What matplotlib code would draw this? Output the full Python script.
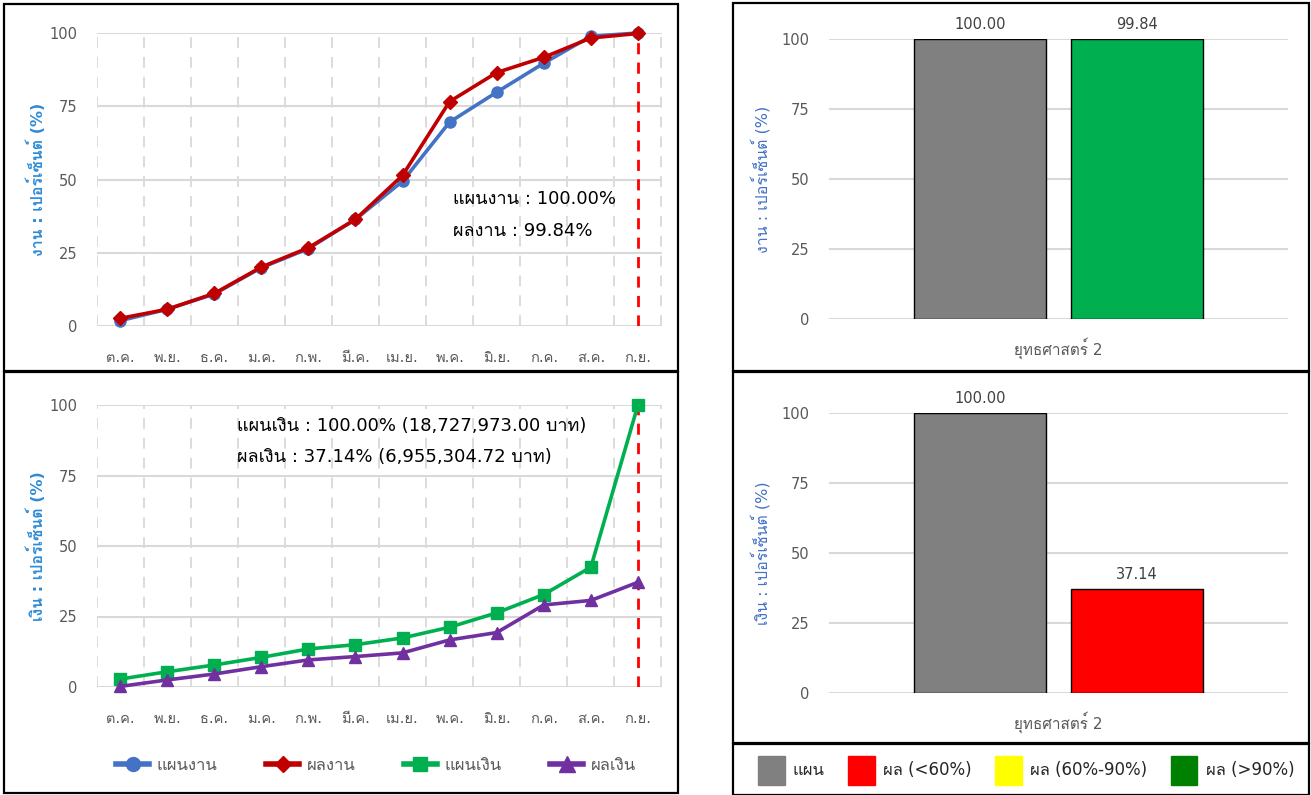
import numpy as np
import matplotlib
matplotlib.use("Agg")
import matplotlib.pyplot as plt
from matplotlib import font_manager
from matplotlib.ft2font import FT2Font
from matplotlib.lines import Line2D
from matplotlib.patches import Patch, Rectangle

# data
months = ["ต.ค.", "พ.ย.", "ธ.ค.", "ม.ค.", "ก.พ.", "มี.ค.", "เม.ย.", "พ.ค.", "มิ.ย.", "ก.ค.", "ส.ค.", "ก.ย."]
plan_work = [1.8, 5.7, 10.9, 19.9, 26.4, 36.4, 49.4, 69.6, 79.8, 89.7, 98.9, 100.0]
result_work = [2.6, 5.7, 11.1, 20.1, 26.7, 36.4, 51.4, 76.6, 86.5, 91.7, 98.3, 99.84]
plan_money = [2.8, 5.4, 7.8, 10.5, 13.5, 15.0, 17.4, 21.2, 26.3, 32.8, 42.5, 100.0]
result_money = [0.2, 2.5, 4.6, 7.2, 9.6, 10.8, 12.1, 16.7, 19.3, 29.1, 30.7, 37.14]

bar_category = "ยุทธศาสตร์ 2"
work_bars = [100.00, 99.84]
money_bars = [100.00, 37.14]
work_text = ["แผนงาน : 100.00%", "ผลงาน : 99.84%"]
money_text = ["แผนเงิน : 100.00% (18,727,973.00 บาท)", "ผลเงิน : 37.14% (6,955,304.72 บาท)"]
line_names = ["แผนงาน", "ผลงาน", "แผนเงิน", "ผลเงิน"]
bar_legend = ["แผน", "ผล (<60%)", "ผล (60%-90%)", "ผล (>90%)"]


def find_thai():
    # look for any installed font that has Thai glyphs
    best = None
    for f in font_manager.fontManager.ttflist:
        try:
            cmap = FT2Font(f.fname).get_charmap()
        except Exception:
            continue
        if 0x0E01 in cmap and 0x0E41 in cmap:
            if f.weight in (400, "normal", "regular") and f.style == "normal":
                return f.name
            best = best or f.name
    return best


thai = find_thai()
fams = ["DejaVu Sans"] + ([thai] if thai else [])
plt.rcParams["font.family"] = fams

W, H = 1311, 795
fig = plt.figure(figsize=(W / 100, H / 100), dpi=100)


def rect(x0, y0, x1, y1):
    return [x0 / W, 1 - y1 / H, (x1 - x0) / W, (y1 - y0) / H]


GRID = "#D9D9D9"
TICK = "#595959"

# panel borders
for (x0, y0, x1, y1) in [(4, 4, 678, 371), (4, 372, 678, 793),
                         (733, 3, 1309, 371), (733, 372, 1309, 743), (733, 744, 1309, 795)]:
    fig.add_artist(Rectangle((x0 / W, 1 - y1 / H), (x1 - x0) / W, (y1 - y0) / H,
                             transform=fig.transFigure, fill=False, ec="black", lw=1.6))


def line_panel(ax, s1, s2, c1, c2, m1, m2, ms1, ms2, ylabel, notes, note_xy):
    x = np.arange(len(months))
    ax.set_xlim(-0.5, 11.5)
    ax.set_ylim(0, 100)
    for v in [0, 25, 50, 75, 100]:
        ax.axhline(v, color=GRID, lw=1.5, zorder=0)
    for b in np.arange(-0.5, 12, 1):
        ax.axvline(b, color=GRID, lw=1.3, ls=(0, (6, 5)), zorder=0)
    ax.plot([11, 11], [0, 100], color="#FF0000", lw=2, ls=(0, (4, 3)), zorder=1)
    ax.plot(x, s1, color=c1, lw=2.6, marker=m1, ms=ms1, zorder=3, clip_on=False)
    ax.plot(x, s2, color=c2, lw=2.6, marker=m2, ms=ms2, zorder=4, clip_on=False)
    for s in ax.spines.values():
        s.set_visible(False)
    ax.set_xticks(x)
    ax.set_xticklabels(months)
    ax.set_yticks([0, 25, 50, 75, 100])
    ax.tick_params(axis="x", length=0, pad=17, labelsize=10.5, labelcolor=TICK)
    ax.tick_params(axis="y", length=0, pad=14, labelsize=10.5, labelcolor=TICK)
    ax.set_ylabel(ylabel, color="#2E8BD6", fontsize=11.5, fontweight="bold", labelpad=2)
    tx, ty = note_xy
    for i, t in enumerate(notes):
        ax.text(tx, ty - i * 11.2, t, fontsize=13, color="black", va="center", zorder=5)


ax1 = fig.add_axes(rect(96.5, 33, 661.5, 326))
line_panel(ax1, plan_work, result_work, "#4472C4", "#C00000", "o", "D", 8, 7,
           "งาน : เปอร์เซ็นต์ (%)", work_text, (7.08, 43.5))

ax2 = fig.add_axes(rect(96.5, 405, 661.5, 687))
line_panel(ax2, plan_money, result_money, "#00B050", "#7030A0", "s", "^", 8, 9,
           "เงิน : เปอร์เซ็นต์ (%)", money_text, (2.48, 92.7))

handles = [
    Line2D([], [], color="#4472C4", lw=4, marker="o", ms=10),
    Line2D([], [], color="#C00000", lw=4, marker="D", ms=8),
    Line2D([], [], color="#00B050", lw=4, marker="s", ms=10),
    Line2D([], [], color="#7030A0", lw=4, marker="^", ms=11),
]
fig.legend(handles, line_names, loc="center", bbox_to_anchor=(376 / W, 1 - 765 / H),
           ncol=4, frameon=False, fontsize=12, labelcolor=TICK, columnspacing=2.9,
           handlelength=2.0, handletextpad=0.45)


def bar_panel(ax, vals, colors, ylabel):
    ax.set_xlim(-0.962, 1.962)
    ax.set_ylim(0, 100)
    for v in [0, 25, 50, 75, 100]:
        ax.axhline(v, color=GRID, lw=1.5, zorder=0)
    bars = ax.bar([0, 1], vals, width=0.84, color=colors, edgecolor="black", lw=1, zorder=2)
    for b, v in zip(bars, vals):
        ax.text(b.get_x() + b.get_width() / 2, v + 2.5, f"{v:.2f}", ha="center", va="bottom",
                fontsize=10.5, color="#404040")
    for s in ax.spines.values():
        s.set_visible(False)
    ax.set_xticks([0.5])
    ax.set_xticklabels([bar_category])
    ax.set_yticks([0, 25, 50, 75, 100])
    ax.tick_params(axis="x", length=0, pad=13, labelsize=11, labelcolor=TICK)
    ax.tick_params(axis="y", length=0, pad=14, labelsize=10.5, labelcolor=TICK)
    ax.set_ylabel(ylabel, color="#4472C4", fontsize=11.5, labelpad=8)


ax3 = fig.add_axes(rect(829, 39, 1288, 319))
bar_panel(ax3, work_bars, ["#808080", "#00B050"], "งาน : เปอร์เซ็นต์ (%)")

ax4 = fig.add_axes(rect(829, 413, 1288, 693))
bar_panel(ax4, money_bars, ["#808080", "#FF0000"], "เงิน : เปอร์เซ็นต์ (%)")

patches = [Patch(color=c) for c in ["#808080", "#FF0000", "#FFFF00", "#008000"]]
fig.legend(patches, bar_legend, loc="center", bbox_to_anchor=(1026 / W, 1 - 770 / H),
           ncol=4, frameon=False, fontsize=12, labelcolor="#262626", columnspacing=1.4,
           handlelength=1.6, handleheight=2.3, handletextpad=0.5)

fig.savefig("out.png", dpi=100)
